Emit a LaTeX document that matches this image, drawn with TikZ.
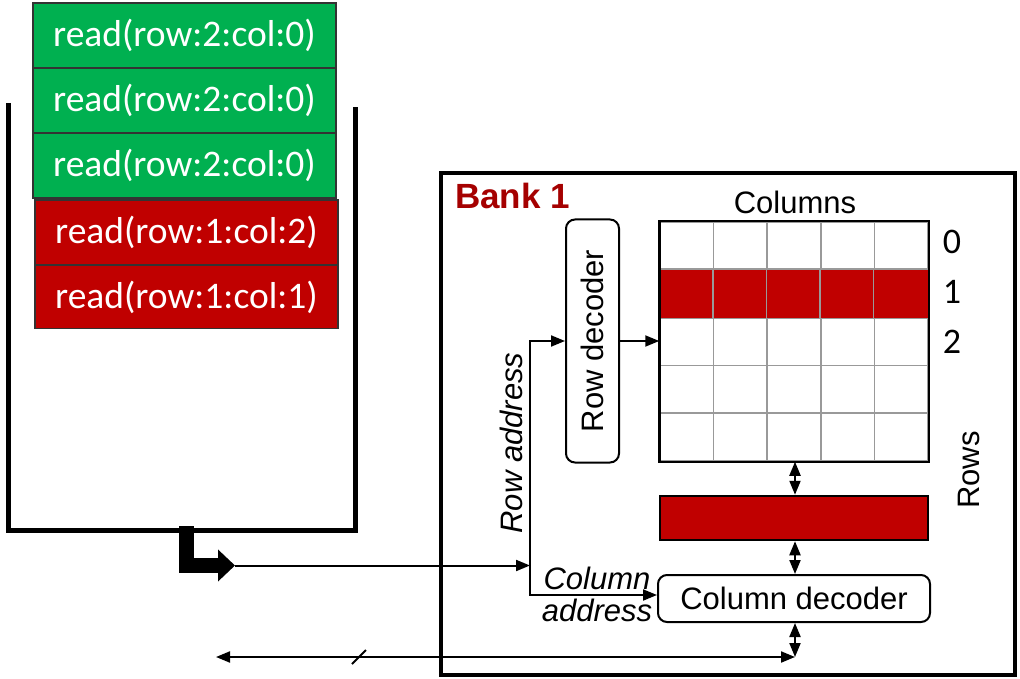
\documentclass[tikz,border=0pt]{standalone}
\usepackage{fontspec}
\setmainfont{Liberation Sans}
\newfontfamily\calfont{Carlito}
\usetikzlibrary{arrows.meta}
\definecolor{qgreen}{HTML}{00B050}
\definecolor{qred}{HTML}{C00000}
\definecolor{bankred}{HTML}{A50000}
\definecolor{cellgray}{HTML}{999999}
\tikzset{
  req/.style={draw=black!80, line width=1.2pt, minimum width=303pt, minimum height=65pt,
    inner sep=0pt, text=white, font=\calfont\fontsize{37.5}{40}\selectfont},
  greq/.style={req, fill=qgreen},
  rreq/.style={req, fill=qred},
  decbox/.style={draw, line width=2pt, rounded corners=9pt, inner sep=0pt,
    font=\fontsize{31}{34}\selectfont},
  lbl/.style={font=\fontsize{31}{34}\selectfont, inner sep=0pt},
  idx/.style={font=\calfont\fontsize{36}{38}\selectfont, inner sep=0pt},
  sig/.style={line width=2pt, -{Triangle[length=14pt,width=11pt]}},
  bisig/.style={line width=2pt, {Triangle[length=14pt,width=11pt]}-{Triangle[length=14pt,width=11pt]}},
}
\begin{document}
\begin{tikzpicture}[x=1pt, y=-1pt]
\useasboundingbox (0,0) rectangle (1020,679);

% request queue
\draw[line width=5pt, line join=miter] (8,103) -- (8,530) -- (355,530) -- (355,107);
\node[greq] (q1) at (184.5,35.5) {read(row:2:col:0)};
\node[greq] (q2) at (184.5,100.5) {read(row:2:col:0)};
\node[greq] (q3) at (184.5,165.5) {read(row:2:col:0)};
\node[rreq] (q4) at (186.5,232.5) {read(row:1:col:2)};
\node[rreq] (q5) at (186.5,297) [minimum height=63pt] {read(row:1:col:1)};

% issue arrow leaving the queue
\coordinate (qout) at (186.5,526);
\coordinate (qtip) at (235,565.5);
\draw[line width=15pt, line join=miter, -{Triangle[length=17pt,width=31pt]}]
  (qout) -- (186.5,565.5) -- (qtip);

% bank
\node[draw, line width=3.5pt, minimum width=574pt, minimum height=502pt, inner sep=0pt]
  (bank) at (728,424) {};
\node[font=\bfseries\fontsize{35}{38}\selectfont, text=bankred, anchor=west, inner sep=0pt]
  (banklbl) at (455,196) {Bank 1};

% cell array
\foreach \r in {0,...,4}{
  \foreach \c in {0,...,4}{
    \node[draw=cellgray, line width=1.5pt, minimum width=53.6pt, minimum height=47.8pt, inner sep=0pt]
      (cell-\r-\c) at ({660+53.6*\c+26.8},{222+47.8*\r+23.9}) {};
  }
}
\fill[qred] (cell-1-0.north west) rectangle (cell-1-4.south east);
\foreach \c in {1,...,4}{
  \draw[cellgray, line width=1.5pt] (cell-1-\c.north west) -- (cell-1-\c.south west);
}
\draw[cellgray, line width=1.5pt] (cell-1-0.north west) -- (cell-1-4.north east)
  (cell-1-0.south west) -- (cell-1-4.south east);
\draw[line width=2.5pt] (cell-0-0.north west) rectangle (cell-4-4.south east);

\node[lbl] (collbl) at (795,202) {Columns};
\node[idx] (r0) at (952,242) {0};
\node[idx] (r1) at (952,292) {1};
\node[idx] (r2) at (952,342) {2};
\node[lbl, rotate=90] (rowslbl) at (969,470) {Rows};

% row buffer
\node[draw, line width=2.5pt, fill=qred, minimum width=268pt, minimum height=44pt, inner sep=0pt]
  (rowbuf) at (794,518) {};

% decoders
\node[decbox, minimum width=53pt, minimum height=243pt] (rowdec) at (592.5,341) {};
\node[lbl, rotate=90] (rowdeclbl) at (rowdec.center) {Row decoder};
\node[decbox, minimum width=272pt, minimum height=47pt] (coldec) at (794,598.5) {Column decoder};

% address paths
\coordinate (junc) at (530,565.5);
\draw[sig] (qtip) -- (junc);
\draw[sig] (junc) |- (rowdec.west);
\draw[sig] (junc) |- (coldec.west |- 0,595);
\draw[sig] (rowdec.east) -- (rowdec.east -| cell-2-0.west);
\node[lbl, font=\itshape\fontsize{31}{34}\selectfont, rotate=90] (rowaddr) at (511,443) {Row address};
\node[lbl, font=\itshape\fontsize{31}{32}\selectfont, align=center] (coladdr) at (597,594) {Column\\address};

% data paths
\draw[bisig] (cell-4-2.south -| 795,0) -- (rowbuf.north -| 795,0);
\draw[bisig] (rowbuf.south -| 795,0) -- (coldec.north -| 795,0);
\coordinate (bus) at (795,657);
\coordinate (busend) at (216,657);
\draw[bisig] (coldec.south -| bus) -- (bus);
\draw[bisig] (busend) -- (bus);
\draw[line width=2pt] (352,664) -- (366,650);
\end{tikzpicture}
\end{document}
